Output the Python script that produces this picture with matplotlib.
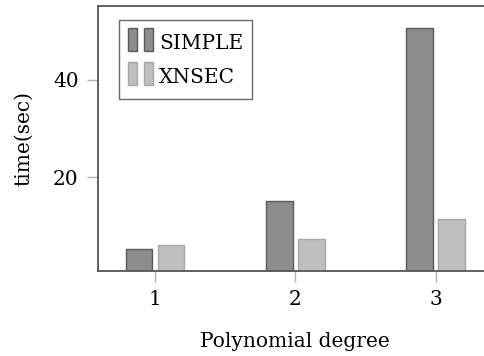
import matplotlib
matplotlib.use("Agg")
import matplotlib.pyplot as plt
from matplotlib.patches import Rectangle
from matplotlib.legend_handler import HandlerBase
import numpy as np

degrees = [1, 2, 3]
simple_times = [5.3, 15.2, 50.5]
xnsec_times = [6.1, 7.4, 11.5]
series_names = ["SIMPLE", "XNSEC"]

plt.rcParams['font.family'] = ['DejaVu Serif']
plt.rcParams['font.size'] = 14.5


class TwoBarHandler(HandlerBase):
    # legend key drawn as two small bars, like a ybar legend
    def create_artists(self, legend, orig_handle, xdescent, ydescent,
                       width, height, fontsize, trans):
        bw = width * 0.35
        h = fontsize * 1.15
        y0 = -ydescent + (height - h) / 2 + fontsize * 0.15
        rects = []
        for x0 in (-xdescent, -xdescent + width - bw):
            rects.append(Rectangle((x0, y0), bw, h,
                                   facecolor=orig_handle.get_facecolor(),
                                   edgecolor=orig_handle.get_edgecolor(),
                                   lw=1, transform=trans))
        return rects


fig = plt.figure(figsize=(4.85, 3.56), dpi=100)
ax = fig.add_axes([0.202, 0.239, 0.814, 0.7435])

x = np.array(degrees)
w = 0.19
off = 0.114
b1 = ax.bar(x - off, simple_times, w, color='#8c8c8c', edgecolor='#5a5a5a', lw=1, label=series_names[0])
b2 = ax.bar(x + off, xnsec_times, w, color='#bfbfbf', edgecolor='#a8a8a8', lw=1, label=series_names[1])

vals = simple_times + xnsec_times
lo, hi = min(vals), max(vals)
rng = hi - lo
ax.set_ylim(lo - 0.1 * rng, hi + 0.1 * rng)
ax.set_xlim(0.593, 3.407)

ax.set_xticks(degrees)
ax.set_yticks([20, 40])
ax.tick_params(axis='both', direction='out', length=8, width=1, color='#b0b0b0', pad=6)

for side in ['left', 'top', 'bottom']:
    ax.spines[side].set_color('#555555')
    ax.spines[side].set_linewidth(1.3)
ax.spines['right'].set_visible(False)

ax.set_xlabel("Polynomial degree", labelpad=16)
ax.set_ylabel("time(sec)", labelpad=14)

leg = ax.legend(handles=[b1[0], b2[0]], labels=series_names,
                handler_map={Rectangle: TwoBarHandler()},
                loc='upper left', bbox_to_anchor=(0.053, 0.948), borderaxespad=0,
                frameon=True, fancybox=False, edgecolor='#444444',
                handlelength=1.25, handleheight=1.65, handletextpad=0.3,
                borderpad=0.45, labelspacing=0.4)
leg.get_frame().set_linewidth(1)

fig.savefig("out.png", dpi=100)
